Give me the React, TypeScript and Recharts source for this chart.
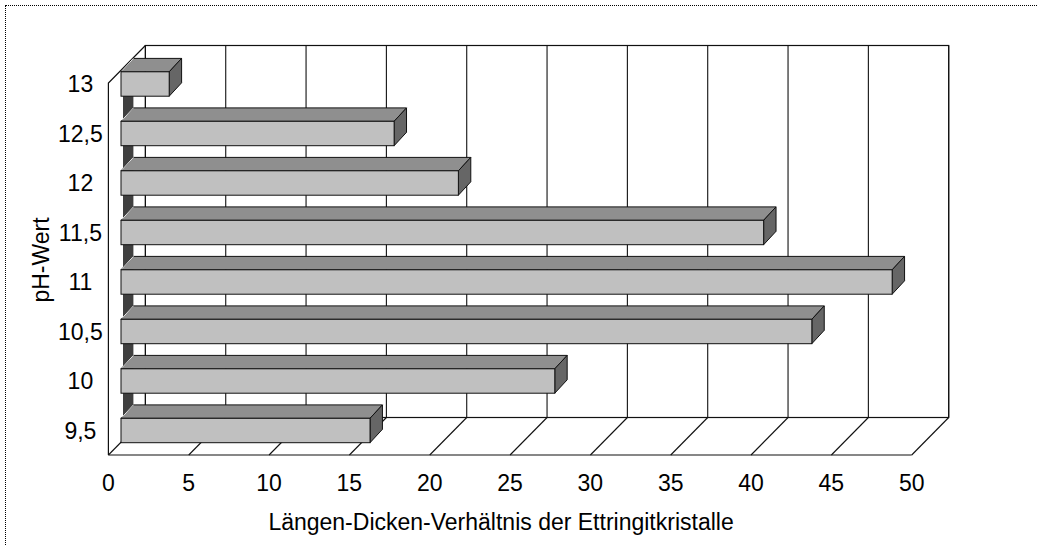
import React from "react";
import { BarChart, Bar, XAxis, YAxis, ReferenceArea } from "recharts";

const PH_LABELS = ["9,5", "10", "10,5", "11", "11,5", "12", "12,5", "13"];
const RATIO_VALUES = [15.5, 27, 43, 48, 40, 21, 17, 3];
const X_TICKS = [0, 5, 10, 15, 20, 25, 30, 35, 40, 45, 50];
const X_MAX = 50;

const data = PH_LABELS.map((ph, i) => ({ ph, ratio: RATIO_VALUES[i] }));

// pseudo-3D geometry (pixels)
const DX = 37; // wall depth, horizontal
const DY = 37.5; // wall depth, vertical
const WALL_H = 372;
const BAR_OFF = 12.6; // bar front face offset from front plane
const BAR_DX = 12.4;
const BAR_DY = 13.4;
const BAR_H = 24.4;

const EDGE = "#111";
const FONT = "'Liberation Sans', Arial, sans-serif";
const FS = 23;

// back wall, floor and grid; drawn behind the bars
function WallShape(props: any) {
  const { x, y, width, height } = props;
  const floorY = y + height;
  const frontTop = floorY - WALL_H;
  const backTop = frontTop - DY;
  return (
    <g>
      <rect x={x + DX} y={backTop} width={width} height={WALL_H} fill="#fff" stroke={EDGE} strokeWidth={1.2} />
      {X_TICKS.map((t) => {
        const tx = x + (width * t) / X_MAX;
        return (
          <g key={t}>
            <line x1={tx} y1={floorY} x2={tx + DX} y2={floorY - DY} stroke={EDGE} strokeWidth={1.1} />
            <line x1={tx + DX} y1={floorY - DY} x2={tx + DX} y2={backTop} stroke={EDGE} strokeWidth={1.1} />
          </g>
        );
      })}
      <polyline
        points={`${x},${floorY} ${x},${frontTop} ${x + DX},${backTop}`}
        fill="none"
        stroke={EDGE}
        strokeWidth={1.2}
      />
      <line x1={x} y1={floorY} x2={x + width} y2={floorY} stroke={EDGE} strokeWidth={1.2} />
      <rect x={x + BAR_OFF + 2} y={y + 14} width={BAR_DX - 2} height={height - 30} fill="#3f3f3f" />
    </g>
  );
}

function XTick(props: any) {
  const { x, y, payload } = props;
  return (
    <text x={x} y={y + 36} textAnchor="middle" fontFamily={FONT} fontSize={FS} fill="#000">
      {payload.value}
    </text>
  );
}

function PhTick(props: any) {
  const { x, y, payload } = props;
  return (
    <text x={x - 28} y={y} dy="0.36em" textAnchor="middle" fontFamily={FONT} fontSize={FS} fill="#000">
      {payload.value}
    </text>
  );
}

function Bar3D(props: any) {
  const { x, y, width, height } = props;
  const cy = y + height / 2;
  const fx = x + BAR_OFF;
  const top = cy - BAR_H / 2;
  const bot = cy + BAR_H / 2;
  const w = width;
  return (
    <g stroke={EDGE} strokeWidth={1}>
      <polygon
        points={`${fx},${top} ${fx + BAR_DX},${top - BAR_DY} ${fx + w + BAR_DX},${top - BAR_DY} ${fx + w},${top}`}
        fill="#8f8f8f"
      />
      <polygon
        points={`${fx + w},${top} ${fx + w + BAR_DX},${top - BAR_DY} ${fx + w + BAR_DX},${bot - BAR_DY} ${fx + w},${bot}`}
        fill="#666"
      />
      <rect x={fx} y={top} width={w} height={BAR_H} fill="#c0c0c0" />
      <line x1={fx + 1} y1={top - 1} x2={fx + BAR_DX} y2={top - BAR_DY} stroke="#e8e8e8" />
    </g>
  );
}

export default function App() {
  return (
    <div
      style={{
        position: "absolute",
        left: 0,
        top: 0,
        width: 1037,
        height: 545,
        overflow: "hidden",
        background: "#fff",
      }}
    >
      <div
        style={{
          position: "absolute",
          left: 5,
          top: 5,
          width: 1100,
          height: 600,
          border: "1px dotted #000",
        }}
      />
      <div style={{ position: "absolute", left: 0, top: 0 }}>
        <BarChart
          width={1037}
          height={545}
          data={data}
          layout="vertical"
          margin={{ top: 59, right: 125.3, bottom: 30, left: 8.4 }}
          barCategoryGap={0}
        >
          <ReferenceArea x1={0} x2={X_MAX} shape={WallShape} ifOverflow="visible" />
          <XAxis
            type="number"
            dataKey="ratio"
            domain={[0, X_MAX]}
            ticks={X_TICKS}
            interval={0}
            axisLine={false}
            tickLine={false}
            tickSize={0}
            tickMargin={0}
            height={60}
            tick={<XTick />}
            label={{
              content: (p: any) => {
                const vb = p.viewBox;
                return (
                  <text
                    x={vb.x + vb.width / 2 - 9}
                    y={vb.y + 75}
                    textAnchor="middle"
                    fontFamily={FONT}
                    fontSize={FS}
                    fill="#000"
                  >
                    Längen-Dicken-Verhältnis der Ettringitkristalle
                  </text>
                );
              },
            }}
          />
          <YAxis
            type="category"
            dataKey="ph"
            reversed
            width={100}
            axisLine={false}
            tickLine={false}
            tickSize={0}
            tickMargin={0}
            interval={0}
            tick={<PhTick />}
            label={{
              content: (p: any) => {
                const vb = p.viewBox;
                const cx = vb.x + 32;
                const cy = vb.y + vb.height / 2 + 3;
                return (
                  <text
                    x={cx}
                    y={cy}
                    dy="0.36em"
                    textAnchor="middle"
                    transform={`rotate(-90 ${cx} ${cy})`}
                    fontFamily={FONT}
                    fontSize={FS}
                    fill="#000"
                  >
                    pH-Wert
                  </text>
                );
              },
            }}
          />
          <Bar dataKey="ratio" shape={<Bar3D />} isAnimationActive={false} />
        </BarChart>
      </div>
    </div>
  );
}
